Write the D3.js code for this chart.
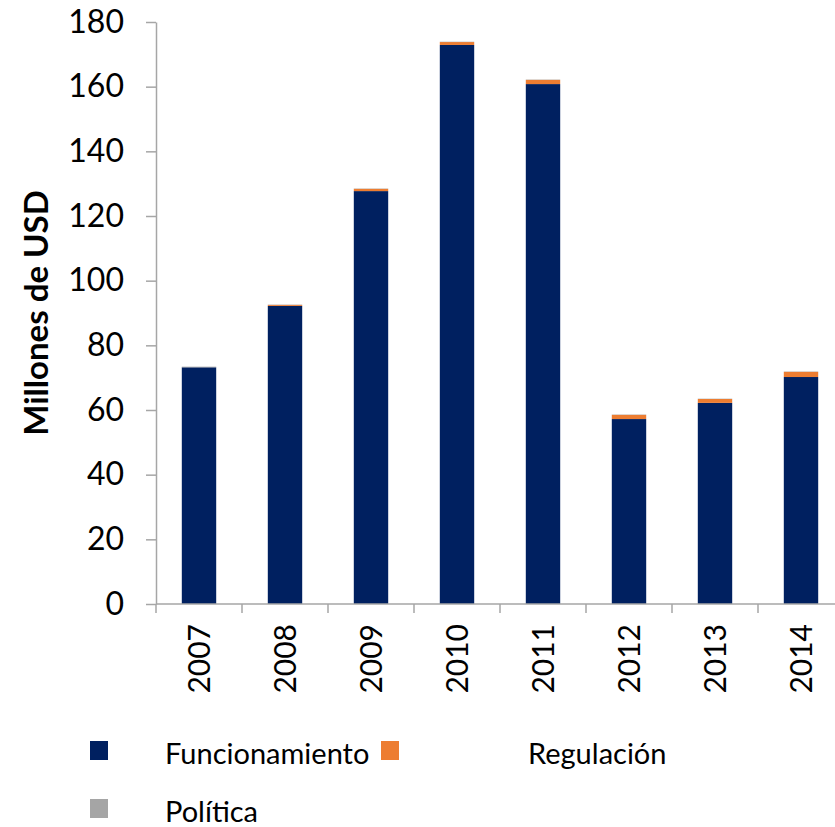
<!DOCTYPE html>
<html>
<head>
<meta charset="utf-8">
<script src="https://cdn.jsdelivr.net/npm/d3@7"></script>
<style>
  body { margin: 0; background: #fff; }
  svg { display: block; font-family: Lato, "Open Sans", sans-serif; }
</style>
</head>
<body>
<svg id="chart" width="835" height="827"></svg>
<script>
let years = ['2007', '2008', '2009', '2010', '2011', '2012', '2013', '2014'];
let funcionamiento = [73.2, 92.2, 127.7, 172.9, 160.8, 57.2, 62.2, 70.2];
let regulacion = [0.0, 0.3, 0.7, 0.9, 1.3, 1.3, 1.2, 1.6];
let politica = [0.2, 0.1, 0.1, 0.1, 0.1, 0.1, 0.1, 0.1];
let seriesNames = ['Funcionamiento', 'Regulación', 'Política'];
let colors = ['#002060', '#ED7D31', '#A5A5A5'];
let yTicks = [0, 20, 40, 60, 80, 100, 120, 140, 160, 180];

let svg = d3.select('#chart');

let x = d3.scaleBand().domain(years).range([156, 844]).paddingInner(0.6).paddingOuter(0.3);
let y = d3.scaleLinear().domain([0, 180]).range([604, 22]);

// stack the three series per year
let rows = years.map((yr, i) => ({
    year: yr,
    Funcionamiento: funcionamiento[i],
    'Regulación': regulacion[i],
    'Política': politica[i]
}));
let stacked = d3.stack().keys(seriesNames)(rows);

svg.append('g')
    .selectAll('g')
    .data(stacked)
    .enter()
    .append('g')
    .attr('fill', (d, i) => colors[i])
    .selectAll('rect')
    .data(d => d)
    .enter()
    .append('rect')
    .attr('x', d => x(d.data.year))
    .attr('width', x.bandwidth())
    .attr('y', d => y(d[1]))
    .attr('height', d => y(d[0]) - y(d[1]));

// y axis
let yAxis = svg.append('g')
    .attr('transform', 'translate(156,0)')
    .call(d3.axisLeft(y).tickValues(yTicks).tickSize(10).tickPadding(22).tickSizeOuter(0));
yAxis.select('.domain').attr('stroke', '#A6A6A6').attr('stroke-width', 1.5);
yAxis.selectAll('.tick line').attr('stroke', '#A6A6A6').attr('stroke-width', 1.5);
yAxis.selectAll('.tick text')
    .attr('font-size', 32)
    .attr('font-family', 'Lato, sans-serif')
    .attr('fill', '#000');

// x axis: category ticks on band boundaries
let xg = svg.append('g').attr('transform', 'translate(0,604)');
xg.append('line')
    .attr('x1', 156).attr('x2', 844)
    .attr('stroke', '#A6A6A6').attr('stroke-width', 1.5);
let step = x.step();
xg.selectAll('.ctick')
    .data(d3.range(years.length + 1))
    .enter()
    .append('line')
    .attr('class', 'ctick')
    .attr('x1', i => 156 + i * step)
    .attr('x2', i => 156 + i * step)
    .attr('y1', 0).attr('y2', 9)
    .attr('stroke', '#A6A6A6').attr('stroke-width', 1.5);
xg.selectAll('.xlab')
    .data(years)
    .enter()
    .append('text')
    .attr('class', 'xlab')
    .attr('transform', d => 'translate(' + (x(d) + x.bandwidth() / 2 + 11) + ',20) rotate(-90)')
    .attr('text-anchor', 'end')
    .attr('font-size', 30)
    .attr('fill', '#000')
    .text(d => d);

// y axis title
svg.append('text')
    .attr('transform', 'translate(48,313) rotate(-90)')
    .attr('text-anchor', 'middle')
    .attr('font-size', 33)
    .attr('font-weight', 'bold')
    .attr('fill', '#000')
    .text('Millones de USD');

// legend
let legendPos = [[90, 741], [381, 741], [90, 799]];
let textPos = [[165, 764], [528, 764], [165, 822]];
let legend = svg.append('g');
seriesNames.forEach((name, i) => {
    legend.append('rect')
        .attr('x', legendPos[i][0]).attr('y', legendPos[i][1])
        .attr('width', 18).attr('height', 19)
        .attr('fill', colors[i]);
    legend.append('text')
        .attr('x', textPos[i][0]).attr('y', textPos[i][1])
        .attr('font-size', 29)
        .attr('fill', '#000')
        .text(name);
});
</script>
</body>
</html>
